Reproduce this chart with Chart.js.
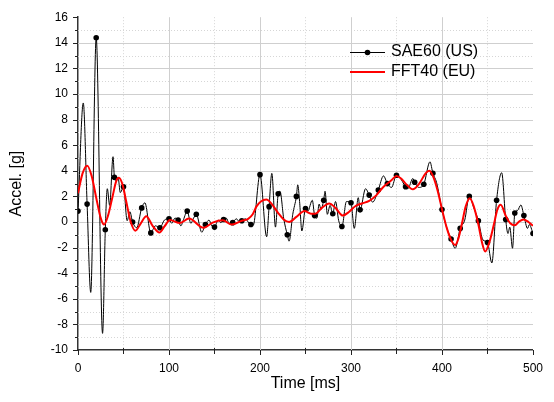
<!DOCTYPE html>
<html>
<head>
<meta charset="utf-8">
<script src="https://cdn.jsdelivr.net/npm/chart.js@4.4.1/dist/chart.umd.min.js"></script>
<style>
  html, body { margin: 0; padding: 0; background: #fff; }
  canvas { display: block; }
</style>
</head>
<body>
<canvas id="accelChart" width="554" height="402"></canvas>
<script>
// SAE60 (US) filtered signal (ms, g)
const sae60Time = [0, 5.8, 10, 14, 20, 27, 30, 32.2, 34.8, 38.5, 40, 42, 44, 46.5, 50, 54, 57, 60, 64.5, 70, 73.5,
  80, 85, 90, 95, 100, 103, 106.5, 110, 113, 116, 120, 124, 127, 130, 136, 140, 144, 147, 150, 154, 157, 160,
  163, 166, 170, 174, 177, 180, 184, 187, 190, 192.5, 200, 207.3, 210, 213, 217, 220, 222, 226, 230, 232, 236,
  240, 241.5, 243.5, 246, 250, 252.5, 257.5, 260, 262.5, 265, 267, 270, 271.5, 274, 277, 280, 283, 286.5, 290,
  295, 300, 303.6, 308, 310, 316, 320, 323.8, 330, 335.7, 340, 344.5, 350, 353, 360, 362.5, 368, 370, 374.5,
  380, 386.8, 390, 394, 400, 405, 410, 414.5, 420, 425, 430, 435, 440, 445, 450, 454.8, 460, 465.6, 470, 472.5,
  474.5, 477.5, 480, 483, 486.7, 490, 494, 496, 500];
const sae60Accel = [0.85, 9.3, 1.4, -5.5, 14.4, -8.7, -0.6, 2.6, 1.3, 5.1, 3.5, 3.2, 3.5, 2.3, 2.75, 0.1, 0.8, 0, -0.45, 1.1, 1.5,
  -0.85, -0.3, -0.45, 0.15, 0.25, -0.1, 0.3, 0.15, -0.3, 0.2, 0.85, -0.1, 0.3, 0.6, -0.8, -0.2, 0.15, -0.3, -0.4, 0.15, -0.05, 0.2,
  0.3, -0.1, -0.05, 0.25, 0.05, 0.1, 0.25, 0.0, -0.2, -0.25, 3.7, -1.15, 1.2, 3.8, -0.4, 2.2, 2.4, 0.3, -1.0, -1.5, 0.6,
  2.0, 2.9, 1.6, -0.7, 1.05, 0.85, 1.7, 0.5, 0.3, 1.4, 1.0, 1.7, 2.4, 0.6, 1.3, 0.65, 1.6, 0.1, -0.35,
  1.6, 1.5, -0.5, 1.9, 0.95, 2.6, 2.1, 1.55, 2.5, 3.6, 3.0, 2.7, 3.65, 3.55, 2.75, 2.6, 3.4, 3.1, 2.7,
  2.95, 4.7, 3.8, 3.1, 0.97, -0.4, -1.33, -2.05, -0.5, 0.15, 2.0, 1.1, 0.1, -1.4, -1.6, -3.2, 1.7, 3.85, 0.2, -0.9,
  -0.4, -2.05, 0.7, 0.9, 1.33, 0.5, -0.5, -0.2, -0.9];

// FFT40 (EU) filtered signal
const fft40Time = [0, 5, 10.2, 15, 20, 25, 28.6, 33, 38, 42, 45, 49, 53, 58, 63, 69, 75, 82, 89.5, 95, 101, 112, 122,
  138, 148, 159, 169, 180, 187, 192, 196, 201, 207, 213, 220, 226, 232, 240, 249, 256, 261, 268, 276, 283, 291,
  298, 305, 312, 320, 328, 335, 340, 345, 350, 355, 360, 368, 375, 382, 386, 390, 395, 400, 405, 410, 414.5, 418,
  422, 426, 430.5, 435, 440, 444, 447.5, 452, 457, 461, 464.5, 470, 475, 480, 485, 489.5, 495, 500];
const fft40Accel = [2.25, 3.8, 4.4, 3.6, 1.9, 0.3, -0.2, 0.5, 2.0, 3.2, 3.45, 2.9, 1.6, 0.0, -0.68, -0.1, 0.45, -0.3, -0.82, -0.35, 0.15, -0.08, 0.27,
  -0.45, -0.05, 0.13, -0.2, 0.1, 0.25, 0.6, 1.2, 1.6, 1.75, 1.4, 0.7, 0.2, 0.0, 0.4, 0.85, 0.65, 0.65, 1.1, 1.45, 1.1, 0.5,
  0.8, 1.25, 1.45, 1.65, 2.1, 2.7, 3.0, 3.3, 3.6, 3.4, 3.0, 2.55, 3.0, 3.8, 4.0, 3.6, 2.5, 1.0, -0.4, -1.4, -1.8, -1.3,
  -0.1, 1.2, 1.85, 1.2, -0.2, -1.6, -2.3, -1.6, -0.2, 1.0, 1.35, 0.5, -0.1, -0.26, 0.05, 0.2, 0.0, -0.3];

const xMajor = [0, 100, 200, 300, 400, 500];
const xMinor = [50, 150, 250, 350, 450];
const yMajor = [-10, -8, -6, -4, -2, 0, 2, 4, 6, 8, 10, 12, 14, 16];
const yMinor = [-9, -7, -5, -3, -1, 1, 3, 5, 7, 9, 11, 13, 15];

const seriesNames = ['SAE60 (US)', 'FFT40 (EU)'];

const saeData = sae60Time.map((t, i) => ({ x: t, y: sae60Accel[i] }));
const fftData = fft40Time.map((t, i) => ({ x: t, y: fft40Accel[i] }));

Chart.defaults.font.family = "'Liberation Sans', Arial, sans-serif";
Chart.defaults.color = '#000';

// grid: solid at major values, dotted at minor
const gridPlugin = {
  id: 'originGrid',
  beforeDatasetsDraw(chart) {
    const { ctx, chartArea: a, scales: { x, y } } = chart;
    ctx.save();
    ctx.lineWidth = 1;
    const line = (x1, y1, x2, y2) => { ctx.beginPath(); ctx.moveTo(x1, y1); ctx.lineTo(x2, y2); ctx.stroke(); };
    ctx.strokeStyle = '#d6d6d6';
    ctx.setLineDash([1, 2]);
    xMinor.forEach(v => { const p = Math.round(x.getPixelForValue(v)) + 0.5; line(p, a.top, p, a.bottom); });
    yMinor.forEach(v => { const p = Math.round(y.getPixelForValue(v)) + 0.5; line(a.left, p, a.right, p); });
    ctx.setLineDash([]);
    ctx.strokeStyle = '#cfcfcf';
    xMajor.slice(1, -1).forEach(v => { const p = Math.round(x.getPixelForValue(v)) + 0.5; line(p, a.top, p, a.bottom); });
    yMajor.slice(1, -1).forEach(v => { const p = Math.round(y.getPixelForValue(v)) + 0.5; line(a.left, p, a.right, p); });
    ctx.restore();
  },
  afterDraw(chart) {
    const { ctx, chartArea: a, scales: { x, y } } = chart;
    ctx.save();
    ctx.strokeStyle = '#222';
    ctx.lineWidth = 1;
    const line = (x1, y1, x2, y2) => { ctx.beginPath(); ctx.moveTo(x1, y1); ctx.lineTo(x2, y2); ctx.stroke(); };
    yMajor.forEach(v => { const p = Math.round(y.getPixelForValue(v)) + 0.5; line(a.left - 5, p, a.left, p); });
    yMinor.forEach(v => { const p = Math.round(y.getPixelForValue(v)) + 0.5; line(a.left - 3, p, a.left, p); });
    xMajor.forEach(v => { const p = Math.round(x.getPixelForValue(v)) + 0.5; line(p, a.bottom, p, a.bottom + 5); });
    xMinor.forEach(v => { const p = Math.round(x.getPixelForValue(v)) + 0.5; line(p, a.bottom - 2, p, a.bottom + 4); });

    // legend box in the upper right
    const lx = 350, ly = 52, gap = 20;
    ctx.strokeStyle = '#000';
    line(lx, ly + 0.5, lx + 35, ly + 0.5);
    ctx.fillStyle = '#000';
    ctx.beginPath(); ctx.arc(lx + 17.5, ly + 0.5, 2.8, 0, Math.PI * 2); ctx.fill();
    ctx.strokeStyle = '#ff0000';
    ctx.lineWidth = 2;
    line(lx, ly + gap, lx + 35, ly + gap);
    ctx.font = "16px 'Liberation Sans', Arial, sans-serif";
    ctx.textBaseline = 'middle';
    ctx.fillStyle = '#000';
    ctx.fillText(seriesNames[0], lx + 41, ly);
    ctx.fillText(seriesNames[1], lx + 41, ly + gap);
    ctx.restore();
  }
};

new Chart(document.getElementById('accelChart'), {
  type: 'line',
  data: {
    datasets: [
      {
        label: seriesNames[1],
        data: fftData,
        borderColor: '#ff0000',
        borderWidth: 2,
        pointRadius: 0,
        cubicInterpolationMode: 'monotone',
        order: 0
      },
      {
        label: seriesNames[0],
        data: saeData,
        borderColor: '#000',
        backgroundColor: '#000',
        borderWidth: 1,
        pointRadius: ctx => (ctx.raw && ctx.raw.x % 10 === 0 ? 2.8 : 0),
        pointBorderWidth: 0,
        cubicInterpolationMode: 'monotone',
        order: 1
      }
    ]
  },
  options: {
    responsive: false,
    animation: false,
    layout: { padding: { top: 12, right: 21, left: 0, bottom: 0 } },
    plugins: { legend: { display: false }, tooltip: { enabled: false } },
    scales: {
      x: {
        type: 'linear',
        min: 0,
        max: 500,
        ticks: { stepSize: 100, padding: 11, font: { size: 12 }, maxRotation: 0 },
        grid: { display: false, drawTicks: false },
        border: { display: true, color: '#333', width: 1.5 },
        title: { display: true, text: 'Time [ms]', font: { size: 16 }, padding: { top: 0, bottom: 9 } },
        afterFit(scale) { scale.height = 52; }
      },
      y: {
        min: -10,
        max: 16,
        ticks: { stepSize: 2, padding: 10, font: { size: 12 } },
        grid: { display: false, drawTicks: false },
        border: { display: true, color: '#333', width: 1.5 },
        title: { display: true, text: 'Accel. [g]', font: { size: 16 }, padding: { top: 7, bottom: 0 } },
        afterFit(scale) { scale.width = 78; }
      }
    }
  },
  plugins: [gridPlugin]
});
</script>
</body>
</html>
